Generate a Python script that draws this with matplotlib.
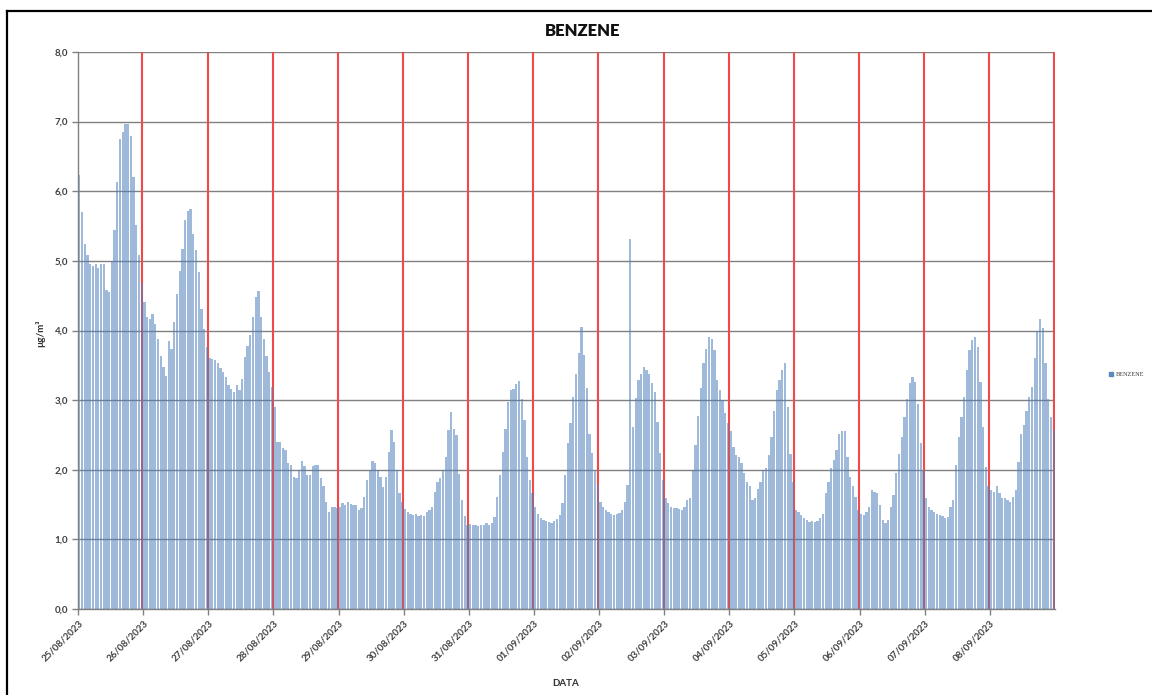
import numpy as np
import matplotlib
matplotlib.use("Agg")
import matplotlib.pyplot as plt
from matplotlib.patches import Rectangle
from matplotlib.lines import Line2D

# ---- data (hourly benzene, µg/m³) ----
day_labels = ["25/08/2023", "26/08/2023", "27/08/2023", "28/08/2023", "29/08/2023",
              "30/08/2023", "31/08/2023", "01/09/2023", "02/09/2023", "03/09/2023",
              "04/09/2023", "05/09/2023", "06/09/2023", "07/09/2023", "08/09/2023"]

d25_08 = [6.23, 5.70, 5.24, 5.09, 4.95, 4.93, 4.95, 4.90, 4.96, 4.96, 4.58, 4.55,
          5.00, 5.44, 6.14, 6.75, 6.85, 6.97, 6.97, 6.80, 6.20, 5.52, 5.08, 4.68]
d26_08 = [4.41, 4.19, 4.17, 4.24, 4.10, 3.88, 3.64, 3.47, 3.35, 3.85, 3.74, 4.12,
          4.53, 4.85, 5.17, 5.58, 5.72, 5.74, 5.39, 5.15, 4.84, 4.31, 4.02, 3.76]
d27_08 = [3.60, 3.59, 3.57, 3.53, 3.46, 3.40, 3.33, 3.22, 3.16, 3.12, 3.22, 3.15,
          3.30, 3.62, 3.78, 3.93, 4.19, 4.48, 4.57, 4.19, 3.88, 3.64, 3.40, 3.19]
d28_08 = [2.90, 2.40, 2.40, 2.31, 2.28, 2.10, 2.07, 1.90, 1.88, 2.00, 2.12, 2.06,
          1.92, 1.92, 2.05, 2.07, 2.07, 1.88, 1.76, 1.54, 1.40, 1.47, 1.46, 1.45]
d29_08 = [1.47, 1.52, 1.50, 1.53, 1.51, 1.50, 1.49, 1.42, 1.45, 1.61, 1.85, 1.99,
          2.12, 2.10, 1.99, 1.90, 1.75, 1.90, 2.26, 2.57, 2.40, 1.99, 1.66, 1.54]
d30_08 = [1.44, 1.40, 1.37, 1.35, 1.36, 1.34, 1.35, 1.33, 1.40, 1.42, 1.47, 1.68,
          1.83, 1.88, 1.99, 2.18, 2.57, 2.83, 2.59, 2.50, 1.94, 1.56, 1.33, 1.21]
d31_08 = [1.22, 1.20, 1.20, 1.19, 1.21, 1.21, 1.24, 1.21, 1.24, 1.32, 1.61, 1.93,
          2.26, 2.59, 2.97, 3.14, 3.16, 3.23, 3.27, 3.02, 2.71, 2.19, 1.85, 1.67]
d01_09 = [1.47, 1.36, 1.30, 1.28, 1.26, 1.25, 1.24, 1.26, 1.29, 1.35, 1.52, 1.93,
          2.38, 2.67, 3.05, 3.37, 3.67, 4.05, 3.65, 3.17, 2.52, 2.24, 2.00, 1.80]
d02_09 = [1.54, 1.47, 1.42, 1.40, 1.37, 1.35, 1.36, 1.38, 1.42, 1.54, 1.78, 5.32,
          2.62, 3.03, 3.29, 3.38, 3.48, 3.43, 3.38, 3.24, 3.12, 2.69, 2.24, 1.85]
d03_09 = [1.59, 1.52, 1.47, 1.45, 1.45, 1.44, 1.42, 1.47, 1.57, 1.59, 2.00, 2.36,
          2.77, 3.17, 3.53, 3.74, 3.91, 3.88, 3.72, 3.29, 3.14, 3.00, 2.81, 2.67]
d04_09 = [2.55, 2.33, 2.21, 2.19, 2.09, 1.95, 1.83, 1.76, 1.57, 1.59, 1.73, 1.83,
          2.00, 2.02, 2.21, 2.47, 2.85, 3.14, 3.29, 3.43, 3.53, 2.90, 2.23, 1.83]
d05_09 = [1.42, 1.40, 1.35, 1.30, 1.28, 1.25, 1.27, 1.25, 1.27, 1.30, 1.37, 1.66,
          1.83, 2.02, 2.14, 2.28, 2.52, 2.55, 2.55, 2.19, 1.90, 1.76, 1.61, 1.42]
d06_09 = [1.37, 1.35, 1.40, 1.47, 1.71, 1.68, 1.66, 1.49, 1.28, 1.23, 1.28, 1.47,
          1.64, 1.95, 2.23, 2.47, 2.76, 3.02, 3.24, 3.33, 3.26, 2.95, 2.38, 2.00]
d07_09 = [1.59, 1.47, 1.42, 1.40, 1.37, 1.35, 1.33, 1.30, 1.32, 1.47, 1.57, 2.07,
          2.47, 2.76, 3.05, 3.43, 3.72, 3.86, 3.91, 3.76, 3.26, 2.62, 2.04, 1.76]
d08_09 = [1.71, 1.68, 1.76, 1.66, 1.59, 1.59, 1.57, 1.54, 1.61, 1.71, 2.11, 2.52,
          2.64, 2.85, 3.05, 3.19, 3.60, 4.00, 4.17, 4.03, 3.53, 3.02, 2.76, 2.57]

days = [d25_08, d26_08, d27_08, d28_08, d29_08, d30_08, d31_08, d01_09,
        d02_09, d03_09, d04_09, d05_09, d06_09, d07_09, d08_09]
values = np.concatenate([np.array(d) for d in days])
hours_per_day = 24
n = len(values)

y_ticks = [0, 1, 2, 3, 4, 5, 6, 7, 8]
y_labels = ["0,0", "1,0", "2,0", "3,0", "4,0", "5,0", "6,0", "7,0", "8,0"]

# ---- figure ----
plt.rcParams['font.family'] = ['Lato', 'DejaVu Sans']
fig = plt.figure(figsize=(11.52, 6.95), dpi=100)
W, H = 1152, 695
ax = fig.add_axes([78 / W, (H - 609) / H, (1055 - 78) / W, (609 - 52) / H])

x = np.arange(n) + 0.5
ax.bar(x, values, width=0.84, color='#4F81BD', alpha=0.55, linewidth=0, zorder=3)

# day separators
for k in range(1, len(days) + 1):
    ax.axvline(k * hours_per_day - 0.25, color='#F24848', lw=1.5, zorder=2)

# horizontal gridlines
for yt in y_ticks:
    ax.axhline(yt, color='#808080', lw=1.0, zorder=1)

ax.set_xlim(0, n)
ax.set_ylim(0, 8)
ax.set_yticks(y_ticks)
ax.set_yticklabels(y_labels, fontsize=7, color='#404040', fontweight='bold')
ax.set_xticks([k * hours_per_day for k in range(len(days))])
ax.set_xticklabels(day_labels, rotation=45, ha='right', rotation_mode='anchor',
                   fontsize=7, color='#404040', fontweight='bold')
ax.tick_params(axis='both', length=4, color='#808080', width=1)
ax.tick_params(axis='y', pad=3)
ax.tick_params(axis='x', pad=3)

for s in ['top', 'right']:
    ax.spines[s].set_visible(False)
for s in ['left', 'bottom']:
    ax.spines[s].set_color('#808080')
    ax.spines[s].set_linewidth(1.0)
    ax.spines[s].set_zorder(4)

# titles/labels
fig.text(583 / W, 1 - 31 / H, "BENZENE", ha='center', va='center',
         fontsize=12, fontweight='heavy', color='#111111')
fig.text(566 / W, 1 - 683 / H, "DATA", ha='center', va='center',
         fontsize=7, fontweight='bold', color='#303030')
fig.text(40 / W, 1 - 333 / H, "µg/m³", ha='center', va='center', rotation=90,
         fontsize=7, fontweight='bold', color='#303030')

# legend
fig.patches.append(Rectangle((1109 / W, 1 - 376 / H), 4 / W, 4 / H,
                             transform=fig.transFigure, color='#4F81BD', alpha=0.9))
fig.text(1116 / W, 1 - 374 / H, "BENZENE", ha='left', va='center',
         fontsize=4.5, family=['Liberation Serif', 'DejaVu Serif'], color='#404040')

# outer border
fig.add_artist(Line2D([7 / W, 7 / W], [0, 1 - 11 / H], transform=fig.transFigure,
                      color='black', lw=1.6))
fig.add_artist(Line2D([7 / W, 1], [1 - 11 / H, 1 - 11 / H], transform=fig.transFigure,
                      color='black', lw=1.6))

fig.savefig("out.png", dpi=100)
